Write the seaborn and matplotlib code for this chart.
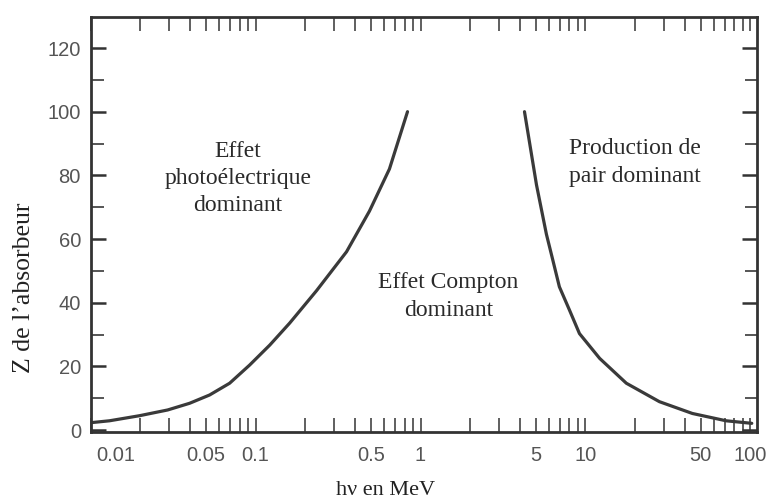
import matplotlib
matplotlib.use("Agg")
import matplotlib.pyplot as plt
import matplotlib.ticker as mticker
import matplotlib.transforms as mtrans
import seaborn as sns
import pandas as pd

# boundary photoelectric / Compton (Z = 100 at top)
photo_E = [0.01, 0.013, 0.0198, 0.0293, 0.0398, 0.0526, 0.0696, 0.092, 0.122, 0.161,
           0.234, 0.356, 0.49, 0.648, 0.834]
photo_Z = [2.3, 2.9, 4.5, 6.3, 8.4, 11, 14.7, 20.4, 26.7, 33.6,
           43.75, 56, 68.75, 82, 100]

# boundary Compton / pair production
pair_E = [4.27, 5.05, 5.8, 6.3, 6.95, 8.0, 9.2, 12.2, 17.7, 28.1, 44.5, 71.3, 102]
pair_Z = [100, 77, 61.5, 54, 45, 37.7, 30.3, 22.5, 14.7, 8.9, 5.2, 2.9, 2.1]

xtick_vals = [0.01, 0.05, 0.1, 0.5, 1, 5, 10, 50, 100]
xtick_labels = ['0.01', '0.05', '0.1', '0.5', '1', '5', '10', '50', '100']
ytick_vals = [0, 20, 40, 60, 80, 100, 120]

df_photo = pd.DataFrame({'E': photo_E, 'Z': photo_Z})
df_pair = pd.DataFrame({'E': pair_E, 'Z': pair_Z})

sns.set_theme(style='ticks')
plt.rcParams['font.family'] = ['Liberation Serif', 'DejaVu Serif']

fig = plt.figure(figsize=(7.75, 5.04), dpi=100)
ax = fig.add_axes([0.117, 0.143, 0.86, 0.823])

line_col = '#3a3a3a'
sns.lineplot(data=df_photo, x='E', y='Z', ax=ax, color=line_col, lw=2.3, sort=False)
sns.lineplot(data=df_pair, x='E', y='Z', ax=ax, color=line_col, lw=2.3, sort=False)

ax.set_xscale('log')
ax.set_xlim(0.01, 110)
ax.set_ylim(-0.6, 129.7)

ax.set_xticks(xtick_vals)
ax.set_xticklabels(xtick_labels)
ax.xaxis.set_minor_locator(mticker.LogLocator(base=10, subs=[2, 3, 4, 6, 7, 8, 9], numticks=20))
ax.xaxis.set_minor_formatter(mticker.NullFormatter())
ax.set_yticks(ytick_vals)
ax.yaxis.set_minor_locator(mticker.MultipleLocator(10))

ax.tick_params(axis='x', which='both', direction='in', top=True, length=10, width=1.2,
               color='#444444', labelsize=14.5, pad=10)
ax.tick_params(axis='y', which='major', direction='in', right=True, length=11, width=1.8,
               color='#333333', labelsize=14.5, pad=7)
ax.tick_params(axis='y', which='minor', direction='in', right=True, length=9, width=1.4,
               color='#555555')

for lab in ax.get_xticklabels() + ax.get_yticklabels():
    lab.set_family('Liberation Sans')
    lab.set_color('#555555')

# the first x label sits a little to the right of the axis corner
first = ax.get_xticklabels()[0]
first.set_transform(first.get_transform() + mtrans.ScaledTranslation(18 / 72, 0, fig.dpi_scale_trans))

for sp in ax.spines.values():
    sp.set_linewidth(2)
    sp.set_color('#333333')

ax.set_xlabel('hν en MeV', fontsize=16, color='#222222')
ax.set_ylabel('Z de l’absorbeur', fontsize=18.5, color='#222222')
ax.xaxis.set_label_coords(0.443, -0.118)
ax.yaxis.set_label_coords(-0.084, 0.348)

txt = dict(fontsize=17, color='#2a2a2a', ha='center', va='center', linespacing=1.4)
ax.text(0.078, 79, 'Effet\nphotoélectrique\ndominant', **txt)
ax.text(1.48, 42, 'Effet Compton\ndominant', **txt)
ax.text(20, 84, 'Production de\npair dominant', **txt)

fig.savefig('out.png', dpi=100)
